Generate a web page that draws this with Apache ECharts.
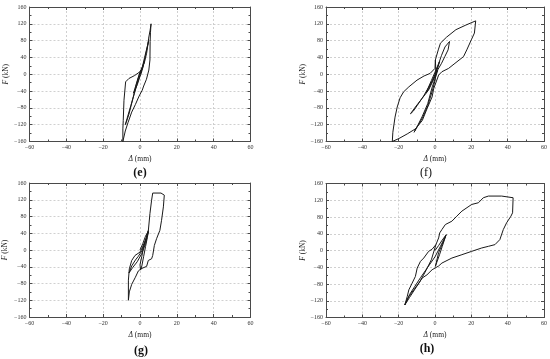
<!DOCTYPE html>
<html><head><meta charset="utf-8">
<script src="https://cdn.jsdelivr.net/npm/echarts@6/dist/echarts.min.js"></script>
<style>html,body{margin:0;padding:0;background:#fff}#c{width:550px;height:359px}</style>
</head><body><div id="c"></div>
<script>
// Panel labels
const panelLabels = ['(e)', '(f)', '(g)', '(h)'];
// Axis ranges / ticks
const xMin = -60, xMax = 60, xStep = 20;
const yMin = -160, yMax = 160, yStep = 40;

// Hysteresis paths [Δ (mm), F (kN)]
const pathE = [
  [0,0],[1,12],[2,25],[2.5,32],[1.5,20],[0,5],[-1,-8],[-2.5,-30],[-3.5,-45],[-3,-42],[-1.5,-25],[0,-5],[0.5,0],
  [1.5,15],[3,45],[4.2,70],[4.7,80],[4.3,72],[2.5,40],[1,12],[0,-2],[-1,-15],[-3,-45],[-5,-75],[-7,-105],[-8,-120],[-7.5,-115],[-6,-95],[-4,-60],[-2,-25],[-0.5,-3],[0.5,8],
  [1.3,14],[2.5,30],[3.6,50],[4.4,74],[4.7,86],[5.5,105],[6,120],
  [5.7,100],[5.5,78],[5.4,34],[4.8,10],[3.5,-12],[2,-28],[1.2,-38],[-0.5,-52],[-2.5,-72],[-4.5,-90],[-6.5,-115],[-8,-135],[-9.3,-160],
  [-9.3,-130],[-9.1,-110],[-8.7,-62],[-7.8,-18],[-6,-10],[-2.9,-3],[0,6],[1.3,14]
];
const pathF = [
  [0,0],[1.5,15],[2.5,30],[1.5,20],[0,5],[-2,-15],[-4,-35],[-5,-45],[-3.5,-35],[-1.5,-15],[0,0],
  [2,25],[3.6,45],[5.5,65],[8,78],[7.2,58],[5.4,42],[3.6,26],[0.9,6],[-0.9,-14],[-3.6,-38],[-7.2,-58],[-10.8,-78],[-13.5,-94],[-12,-88],[-9.9,-75],[-6.3,-52],[-2.7,-25],[0,-5],[1.5,10],
  [0.5,-5],[-1.5,-30],[-4,-70],[-7,-100],[-9.5,-122],[-11.5,-138],[-10.5,-130],[-7,-105],[-4,-75],[-1.5,-40],[0,-15],[0.5,5],
  [0.2,34],[1.8,58],[3,74],[6.3,88],[11.5,106],[17,117],[22.4,127],
  [21.7,98],[20,82],[17.5,58],[15.7,42],[11,26],[7.5,14],[3.8,6],[2,-2],[-0.7,-34],[-1.6,-54],[-4.4,-82],[-7,-110],[-10.8,-130],[-15.3,-142],[-19.9,-153],[-23.5,-160],
  [-23.2,-138],[-22,-102],[-20.8,-78],[-19.2,-56],[-17.3,-42],[-14.4,-30],[-9.9,-14],[-6,-4],[-2.7,2],[0,14],[0.2,34]
];
const pathG = [
  [0,0],[1.5,15],[3,33],[4.5,45],[3.5,28],[2,8],[1,-15],[0,-35],[0.3,-48],[1,-38],[2,-15],[3,8],[4,30],[4.5,43],
  [3,15],[1,-8],[-1.5,-28],[-4,-42],[-6,-55],[-4.5,-38],[-2.5,-24],[-0.9,-15],[1,-2],[2.7,19],[4.5,45],
  [5.4,87],[6.3,119],[6.9,136],[11.4,136],[13.2,131],[12.7,103],[11.7,71],[10.8,47],[9,27],[7.8,11],[6.9,-13],[6.3,-21],[4.5,-25],[3.6,-39],[0.5,-45],[-0.9,-50],[-2.5,-65],[-4.5,-82],[-5.8,-100],[-6.3,-120],
  [-6.3,-72],[-5.8,-45],[-4.5,-25],[-2.7,-13],[0,-5],[1.4,7],[3.6,31],[4.5,47]
];
const pathH = [
  [0,0],[2,12],[4,25],[6.2,38],[4.5,20],[2,-5],[0.2,-38],[1,-28],[2.5,-10],[4,10],[6,36],
  [3,10],[0,-15],[-4,-40],[-8,-65],[-11,-85],[-14,-105],[-16.6,-130],[-14,-112],[-11,-92],[-8,-72],[-5,-48],[-2,-22],[0.5,14],
  [2,30],[2.6,42],[3.8,50],[5.7,62],[9.3,70],[12,82],[14.8,94],[20.2,110],[23.9,114],[26.6,126],[29.4,130],[36.7,130],[43,126],
  [42.7,90],[41.8,82],[39.4,66],[37.6,50],[35.7,26],[33,14],[29.4,10],[25.7,6],[20.2,-2],[14.8,-10],[9.3,-18],[3.8,-30],[2,-37],[-1.6,-46],[-4.4,-58],[-7.1,-66],[-8.9,-78],[-11.7,-94],[-14.4,-110],[-16.2,-125],[-16.6,-130],
  [-15.3,-110],[-14.4,-94],[-12.6,-78],[-10.8,-62],[-9.8,-42],[-8,-26],[-6.2,-18],[-3.5,-2],[-1.6,3],[0.5,14]
];
const paths = [pathE, pathF, pathG, pathH];

// layout
const grids = [
  {left: 29.5, top: 7, width: 221, height: 134.5},
  {left: 326, top: 7, width: 219, height: 134.5},
  {left: 29.5, top: 183, width: 221, height: 134},
  {left: 326, top: 183.5, width: 219, height: 134}
];
const yNameGap = [15.5, 19, 20, 17];
const labelPos = [[140, 173, 'bold'], [426, 173, 'normal'], [141, 351, 'bold'], [427, 349, 'bold']];

const FONT = 'Liberation Serif';
const AX = '#4a4a4a';
const minus = v => String(v).replace('-', '\u2212');

const xAxis = [], yAxis = [], series = [], graphic = [];
grids.forEach((g, i) => {
  const base = {
    type: 'value', gridIndex: i,
    axisLine: {show: true, onZero: false, lineStyle: {color: AX, width: 1}},
    axisTick: {show: true, inside: true, length: 3, lineStyle: {color: AX}},
    minorTick: {show: true, splitNumber: 2, length: 2, lineStyle: {color: AX}}
  };
  xAxis.push(Object.assign({}, base, {
    position: 'bottom', min: xMin, max: xMax, interval: xStep,
    axisLabel: {fontFamily: FONT, fontSize: 6, color: '#333', margin: 3, formatter: minus},
    splitLine: {show: true, lineStyle: {color: '#c4c4c4', type: [2, 2], width: 0.8}},
    name: '{i|\u0394} (mm)', nameLocation: 'middle', nameGap: 14,
    nameTextStyle: {fontFamily: FONT, fontSize: 7.5, color: '#222', rich: {i: {fontFamily: FONT, fontSize: 7.5, fontStyle: 'italic', color: '#222'}}}
  }));
  xAxis.push(Object.assign({}, base, {
    position: 'top', min: xMin, max: xMax, interval: xStep,
    axisLabel: {show: false}, splitLine: {show: false}
  }));
  yAxis.push(Object.assign({}, base, {
    position: 'left', min: yMin, max: yMax, interval: yStep,
    axisLabel: {fontFamily: FONT, fontSize: 6, color: '#333', margin: 3, formatter: minus},
    splitLine: {show: true, lineStyle: {color: '#c4c4c4', type: [2, 2], width: 0.8}},
    name: '{i|F} (kN)', nameLocation: 'middle', nameGap: yNameGap[i], nameRotate: 90,
    nameTextStyle: {fontFamily: FONT, fontSize: 7.5, color: '#222', rich: {i: {fontFamily: FONT, fontSize: 7.5, fontStyle: 'italic', color: '#222'}}}
  }));
  yAxis.push(Object.assign({}, base, {
    position: 'right', min: yMin, max: yMax, interval: yStep,
    axisLabel: {show: false}, splitLine: {show: false}
  }));
  series.push({
    type: 'line', xAxisIndex: 2 * i, yAxisIndex: 2 * i,
    data: paths[i], showSymbol: false, symbol: 'none',
    lineStyle: {color: '#1a1a1a', width: 1}, animation: false
  });
  graphic.push({
    type: 'text', x: labelPos[i][0], y: labelPos[i][1],
    style: {text: panelLabels[i], fontFamily: FONT, fontSize: 12, fontWeight: labelPos[i][2], fill: '#111', align: 'center', verticalAlign: 'middle'}
  });
});

const chart = echarts.init(document.getElementById('c'), null, {renderer: 'canvas'});
chart.setOption({
  animation: false,
  backgroundColor: '#fff',
  grid: grids.map(g => Object.assign({containLabel: false}, g)),
  xAxis, yAxis, series, graphic
});
</script></body></html>
